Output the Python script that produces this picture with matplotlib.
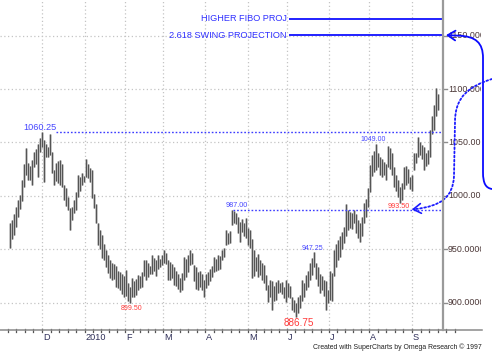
import matplotlib
matplotlib.use('Agg')
import matplotlib.pyplot as plt
from matplotlib.path import Path
from matplotlib.patches import FancyArrowPatch
from matplotlib.lines import Line2D
from matplotlib.transforms import Bbox, TransformedBbox, blended_transform_factory

plt.rcParams['font.family'] = ['Liberation Sans', 'DejaVu Sans']

# ---------------- data (daily bars) ----------------
highs = [975, 977, 983, 990, 996, 1001, 1015, 1030, 1045, 1031,
         1028, 1034, 1041, 1044, 1049, 1054, 1060.25, 1052, 1049, 1046,
         1058, 1041, 1024, 1031, 1033, 1034, 1030, 1010, 1007, 999,
         989, 990, 996, 1004, 1020, 1018, 1021, 1019, 1035, 1030,
         1026, 1024, 1002, 992, 975, 968, 963, 955, 949, 945,
         940, 937, 936, 934, 930, 929, 927, 925, 931, 918,
         915, 923, 920, 922, 926, 925, 929, 940, 940, 937,
         934, 945, 942, 940, 945, 941, 945, 949, 947, 940,
         938, 936, 933, 930, 927, 923, 928, 943, 941, 945,
         949, 947, 935, 933, 929, 930, 927, 921, 927, 929,
         932, 934, 943, 941, 945, 944, 949, 951, 968, 965,
         967, 987, 986, 984, 980, 976, 978, 975, 979, 970,
         968, 960, 949, 943, 946, 940, 937, 935, 926, 917,
         921, 920, 916, 919, 921, 918, 919, 915, 921, 918,
         916, 905, 903, 900, 905, 907, 921, 918, 926, 930,
         937, 942, 947.25, 937, 933, 927, 925, 921, 920, 912,
         930, 928, 949, 955, 959, 962, 966, 971, 992, 987,
         985, 984, 987, 983, 977, 975, 980, 993, 997, 1007,
         1029, 1038, 1042, 1049, 1040, 1036, 1035, 1032, 1030, 1047,
         1045, 1040, 1027, 1020, 1015, 1008, 1012, 1027, 1028, 1025,
         1018, 1020, 1040, 1040, 1055, 1050, 1048, 1046, 1040, 1043,
         1062, 1075, 1085, 1101, 1095]
lows = [951, 960, 963, 971, 980, 988, 995, 1008, 1020, 1015,
        1015, 1010, 1027, 1030, 1018, 1041, 1046, 1013, 1036, 1036,
        1038, 1021, 1010, 1014, 1012, 1010, 1008, 996, 991, 987,
        968, 977, 984, 987, 999, 1005, 1010, 1013, 1018, 1017,
        1013, 998, 989, 975, 954, 950, 942, 940, 933, 928,
        923, 921, 922, 915, 914, 912, 908, 905, 906, 902,
        899.5, 905, 905, 907, 912, 914, 915, 925, 921, 924,
        927, 927, 930, 925, 932, 933, 935, 937, 936, 921,
        921, 923, 917, 916, 913, 910, 912, 921, 924, 929,
        935, 936, 920, 913, 912, 915, 912, 905, 914, 917,
        920, 924, 929, 930, 931, 932, 940, 943, 954, 955,
        956, 973, 975, 974, 965, 957, 966, 962, 961, 954,
        951, 923, 925, 930, 924, 926, 921, 918, 912, 901,
        905, 893, 902, 903, 909, 910, 908, 904, 901, 905,
        904, 893, 891, 886.75, 890, 895, 902, 905, 912, 915,
        921, 926, 933, 922, 916, 909, 912, 906, 893, 900,
        903, 902, 925, 933, 940, 943, 950, 956, 962, 968,
        970, 969, 975, 965, 961, 957, 962, 975, 980, 990,
        1004, 1019, 1022, 1024, 1027, 1020, 1018, 1020, 1015, 1027,
        1025, 1020, 1008, 1005, 999, 993.5, 996, 1006, 1010, 1012,
        1006, 1005, 1024, 1031, 1036, 1038, 1035, 1024, 1028, 1030,
        1036, 1058, 1062, 1075, 1080]

month_labels = ['D', '2010', 'F', 'M', 'A', 'M', 'J', 'J', 'A', 'S']
month_pos = [16, 37.5, 57.5, 76.5, 97.5, 119, 138.5, 159.5, 179.5, 201]
price_ticks = [900, 950, 1000, 1050, 1100, 1150]

# swing labels
lbl_text = ['1060.25', '1049.00', '987.00', '899.50', '886.75', '947.25', '993.50']
lbl_x = [15, 181.5, 113.5, 61, 144.5, 151, 194.5]
lbl_y = [1064.5, 1053, 990.8, 895, 881, 951, 990.5]
lbl_color = ['#4646ff', '#4646ff', '#4646ff', '#ff3b3b', '#ff3b3b', '#4646ff', '#ff3b3b']
lbl_size = [6.6, 5.0, 5.2, 5.0, 7.2, 5.0, 5.2]

# horizontal reference levels
dotted_levels = [1060.25, 987.0]
dotted_start = [23, 111.5]
proj_text = ['HIGHER FIBO PROJ', '2.618 SWING PROJECTION']
proj_levels = [1166.0, 1150.5]

# ---------------- figure ----------------
W, H = 492, 354
fig = plt.figure(figsize=(W / 100, H / 100), dpi=100)
fig.patch.set_facecolor('white')

ax = fig.add_axes([0, 1 - 329 / H, 443 / W, 329 / H])
ax.set_xlim(-5, 216.5)
ax.set_ylim(875.4, 1183.4)
for s in ax.spines.values():
    s.set_visible(False)
ax.set_xticks([])
ax.set_yticks([])
ax.patch.set_alpha(0)

grid_kw = dict(color='#c4c4c4', lw=0.9, linestyle=(0, (1, 2)), zorder=0)
for p in price_ticks:
    ax.axhline(p, **grid_kw)
for m in month_pos:
    ax.axvline(m, **grid_kw)

xs = list(range(len(highs)))
ax.vlines(xs, lows, highs, colors='#b2b2b2', lw=1.8, zorder=2)
ax.vlines(xs, lows, highs, colors='#4c4c4c', lw=0.65, zorder=3)

for lev, st in zip(dotted_levels, dotted_start):
    ax.hlines(lev, st, 216.5, colors='#3c3cff', lw=1.0,
              linestyles=(0, (1.2, 1.4)), zorder=4)

for t, lev in zip(proj_text, proj_levels):
    ax.hlines(lev, 139.5, 216.5, colors='#1010ff', lw=1.3, zorder=4)
    ax.text(138.5, lev, t, ha='right', va='center', color='#3030ff',
            fontsize=6.6, zorder=5)

for t, x, y, c, s in zip(lbl_text, lbl_x, lbl_y, lbl_color, lbl_size):
    ax.text(x, y, t, ha='center', va='center', color=c, fontsize=s, zorder=5)

# right price axis labels (clipped at the right like the original)
btr = blended_transform_factory(ax.transAxes, ax.transData)
clipbox = TransformedBbox(Bbox([[0, 0], [481 / W, 1]]), fig.transFigure)
for p in price_ticks:
    ax.plot([1.0, 1.0 + 4 / 443], [p, p], transform=btr, color='#8c8c8c',
            lw=1.0, clip_on=False)
    t = ax.text(1.0 + 5 / 443, p, f'{p:.4f}', transform=btr, ha='left',
                va='center', color='#4a3636', fontsize=6.4, clip_on=True)
    t.set_clip_box(clipbox)

# bottom month labels
bx = blended_transform_factory(ax.transData, ax.transAxes)
for lab, m in zip(month_labels, month_pos):
    ax.text(m + 0.4, -8.5 / 329, lab, transform=bx, ha='left', va='center',
            color='#2e2e58', fontsize=6.6, clip_on=False)

# weekly minor ticks on the time axis
tick_pos = []
step0 = (month_pos[1] - month_pos[0]) / 5
for k in range(1, 5):
    tick_pos.append(month_pos[0] - k * step0)
for a, b in zip(month_pos[:-1], month_pos[1:]):
    for k in range(5):
        tick_pos.append(a + k * (b - a) / 5)
last_step = (month_pos[-1] - month_pos[-2]) / 5
for k in range(0, 6):
    tick_pos.append(month_pos[-1] + k * last_step)
for tp in tick_pos:
    if -5 < tp < 235:
        ax.plot([tp, tp], [0, -3.0 / 329], transform=bx, color='#555555',
                lw=0.9, clip_on=False)

# axis frame lines
def fx(x):
    return x / W


def fy(y):
    return 1 - y / H


fig.add_artist(Line2D([fx(0), fx(482)], [fy(329.5), fy(329.5)],
                      color='#8a8a8a', lw=1.1))
fig.add_artist(Line2D([fx(443), fx(443)], [fy(0), fy(329.5)],
                      color='#9a9a9a', lw=1.6))

fig.text(fx(482), fy(347), 'Created with SuperCharts by Omega Research \u00a9 1997',
         ha='right', va='center', fontsize=4.95, color='#222222')

# ---------------- curved arrows (figure pixel space) ----------------
ov = fig.add_axes([0, 0, 1, 1])
ov.set_xlim(0, W)
ov.set_ylim(H, 0)
ov.axis('off')
ov.patch.set_alpha(0)


def price_px(p):
    return H - ax.transData.transform((0, p))[1]


y_proj = price_px(proj_levels[1])
y_987 = price_px(dotted_levels[1])

solid = Path([(492, 189), (486, 188), (483, 184), (483, 172),
              (483, 58),
              (483, 43), (476, y_proj + 1), (458, y_proj + 0.5),
              (446, y_proj)],
             [Path.MOVETO, Path.CURVE4, Path.CURVE4, Path.CURVE4,
              Path.LINETO,
              Path.CURVE4, Path.CURVE4, Path.CURVE4,
              Path.LINETO])
ov.add_patch(FancyArrowPatch(path=solid, arrowstyle='->,head_length=0.55,head_width=0.35',
                             mutation_scale=10, color='#0a0aff', lw=1.3))

dotted = Path([(492, 79), (470, 86), (455, 96), (455, 122),
               (454, 176),
               (453, 198), (440, 206), (416, y_987 - 0.8)],
              [Path.MOVETO, Path.CURVE4, Path.CURVE4, Path.CURVE4,
               Path.LINETO,
               Path.CURVE4, Path.CURVE4, Path.CURVE4])
ov.add_patch(FancyArrowPatch(path=dotted, arrowstyle='-', color='#1a1aff',
                             lw=1.3, linestyle=(0, (1, 1.3))))
ov.add_patch(FancyArrowPatch((417, y_987 - 0.9), (409, y_987),
                             arrowstyle='->,head_length=0.55,head_width=0.35',
                             mutation_scale=10, color='#1a1aff', lw=1.2))

fig.savefig('out.png', dpi=100)
